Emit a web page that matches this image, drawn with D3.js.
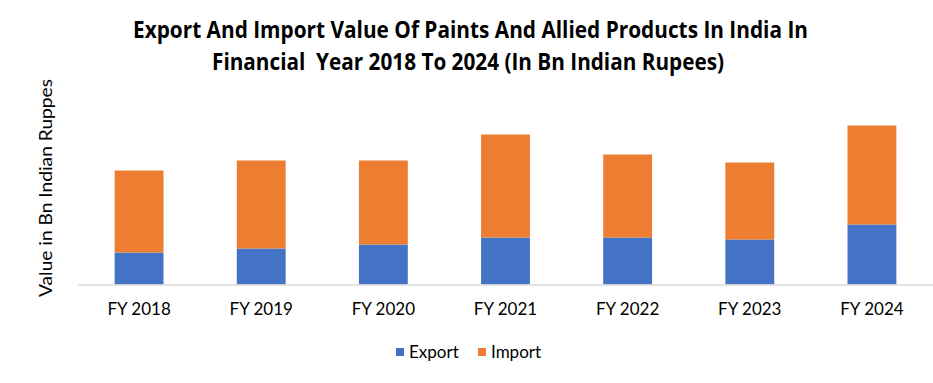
<!DOCTYPE html>
<html>
<head>
<meta charset="utf-8">
<script src="https://cdn.jsdelivr.net/npm/d3@7"></script>
<style>
  html, body { margin: 0; padding: 0; background: #fff; }
  svg { display: block; }
</style>
</head>
<body>
<svg id="chart" width="933" height="383"></svg>
<script>
const categories = ["FY 2018", "FY 2019", "FY 2020", "FY 2021", "FY 2022", "FY 2023", "FY 2024"];
const exportValues = [16, 18, 20, 23.5, 23.5, 22.5, 30];
const importValues = [41, 44, 42, 51.5, 41.5, 38.5, 49.5];
const seriesNames = ["Export", "Import"];
const seriesColors = ["#4472C4", "#ED7D31"];
const titleLines = [
  "Export And Import Value Of Paints And Allied Products In India In",
  "Financial  Year 2018 To 2024 (In Bn Indian Rupees)"
];
const yAxisTitle = "Value in Bn Indian Ruppes";

const svg = d3.select("#chart");

const rows = categories.map((c, i) => ({ cat: c, Export: exportValues[i], Import: importValues[i] }));
const stack = d3.stack().keys(seriesNames)(rows);

const x = d3.scaleBand().domain(categories).range([78, 933]).paddingInner(0.6).paddingOuter(0.3);
const y = d3.scaleLinear().domain([0, 90]).range([284.5, 104.5]);
const color = d3.scaleOrdinal().domain(seriesNames).range(seriesColors);

// Title
svg.append("g").selectAll("text").data(titleLines).join("text")
  .attr("x", (d, i) => i === 0 ? 133 : 212)
  .attr("y", (d, i) => 38 + i * 32)
  .attr("textLength", (d, i) => i === 0 ? 675 : 512)
  .attr("lengthAdjust", "spacingAndGlyphs")
  .style("white-space", "pre")
  .style("font-family", "'Liberation Sans Narrow', 'Open Sans', sans-serif")
  .style("font-weight", "bold")
  .style("font-size", "23px")
  .attr("fill", "#000")
  .text(d => d);

// Bars
svg.append("g").selectAll("g").data(stack).join("g")
  .attr("fill", d => color(d.key))
  .selectAll("rect").data(d => d).join("rect")
  .attr("x", d => x(d.data.cat))
  .attr("width", x.bandwidth())
  .attr("y", d => y(d[1]))
  .attr("height", d => y(d[0]) - y(d[1]));

// X axis
const xAxis = svg.append("g")
  .attr("transform", `translate(0,${y(0)})`)
  .call(d3.axisBottom(x).tickSize(0).tickPadding(18));
xAxis.select(".domain").attr("stroke", "#D9D9D9").attr("stroke-width", 1.5);
xAxis.selectAll("text")
  .style("font-family", "Lato, 'Open Sans', sans-serif")
  .style("font-size", "17px")
  .attr("fill", "#000");

// Y axis title
svg.append("text")
  .attr("transform", "translate(52,188) rotate(-90)")
  .attr("text-anchor", "middle")
  .attr("textLength", 218)
  .attr("lengthAdjust", "spacingAndGlyphs")
  .style("font-family", "Lato, 'Open Sans', sans-serif")
  .style("font-size", "18px")
  .attr("fill", "#000")
  .text(yAxisTitle);

// Legend
const legendX = [396, 478];
const legend = svg.append("g").selectAll("g").data(seriesNames).join("g")
  .attr("transform", (d, i) => `translate(${legendX[i]},348)`);
legend.append("rect").attr("width", 8).attr("height", 8).attr("fill", d => color(d));
legend.append("text")
  .attr("x", 13).attr("y", 10)
  .style("font-family", "Lato, 'Open Sans', sans-serif")
  .style("font-size", "17px")
  .attr("fill", "#000")
  .text(d => d);
</script>
</body>
</html>
